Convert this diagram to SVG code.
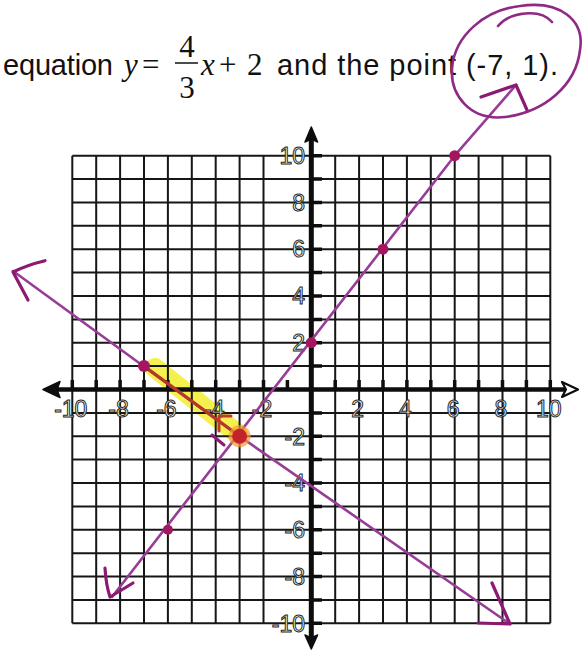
<svg xmlns="http://www.w3.org/2000/svg" width="583" height="651" viewBox="0 0 583 651">
<style>
.grid{stroke:#161616;stroke-width:2;fill:none}
.tick{stroke:#0d0d0d;stroke-width:3.5;fill:none}
.lbl{font-family:"Liberation Sans",Arial,sans-serif;font-size:23px;fill:#fff;stroke:#262626;stroke-width:1}
.txt{font-family:"Liberation Sans",Arial,sans-serif;font-size:29px;fill:#111}
.math{font-family:"Liberation Serif","Times New Roman",serif;font-size:31px;fill:#111}
.pl{stroke:#973c97;stroke-width:2.6;fill:none;stroke-linecap:round;stroke-linejoin:round}
.ah{stroke:#8c1a72;stroke-width:3.2;fill:none;stroke-linecap:round;stroke-linejoin:round}
.dot{fill:#a3175e}
</style>
<rect width="583" height="651" fill="#fff"/>

<g id="title">
<text class="txt" x="3" y="75" textLength="110" lengthAdjust="spacing">equation</text>
<text class="math" x="124" y="75" font-style="italic">y</text>
<text class="math" x="142" y="75">=</text>
<text class="math" x="187" y="57" text-anchor="middle">4</text>
<line x1="175" y1="63" x2="198" y2="63" stroke="#111" stroke-width="1.5"/>
<text class="math" x="187" y="98" text-anchor="middle">3</text>
<text class="math" x="201" y="75" font-style="italic">x</text>
<text class="math" x="219" y="75">+</text>
<text class="math" x="247" y="75">2</text>
<text class="txt" x="277" y="75" textLength="281" lengthAdjust="spacing">and the point (-7, 1).</text>
</g>

<g id="highlight">
<line x1="155" y1="368" x2="238" y2="434" stroke="#f4ee30" stroke-width="20" stroke-linecap="round" opacity="0.85"/>
</g>

<g id="grid">
<path class="grid" d="M72.3 155.7V623.3M96.2 155.7V623.3M120.1 155.7V623.3M144 155.7V623.3M167.9 155.7V623.3M191.8 155.7V623.3M215.7 155.7V623.3M239.6 155.7V623.3M263.5 155.7V623.3M335.2 155.7V623.3M359.1 155.7V623.3M383 155.7V623.3M406.9 155.7V623.3M430.8 155.7V623.3M454.7 155.7V623.3M478.6 155.7V623.3M502.5 155.7V623.3M526.4 155.7V623.3M550.3 155.7V623.3
M72.3 155.7H550.3M72.3 179.1H550.3M72.3 202.5H550.3M72.3 225.8H550.3M72.3 249.2H550.3M72.3 272.6H550.3M72.3 296H550.3M72.3 319.4H550.3M72.3 342.7H550.3M72.3 366.1H550.3M72.3 412.9H550.3M72.3 436.3H550.3M72.3 459.6H550.3M72.3 483H550.3M72.3 506.4H550.3M72.3 529.8H550.3M72.3 553.2H550.3M72.3 576.5H550.3M72.3 599.9H550.3M72.3 623.3H550.3"/>
</g>

<g id="axes">
<line x1="55" y1="389.5" x2="566" y2="389.5" stroke="#0d0d0d" stroke-width="4.5"/>
<line x1="311.3" y1="138" x2="311.3" y2="640" stroke="#0d0d0d" stroke-width="5"/>
<polygon points="43,389.5 60,381.5 57,389.5 60,397.5" fill="#0d0d0d" stroke="#0d0d0d" stroke-width="1.5" stroke-linejoin="round"/>
<polygon points="578,389.5 562,382 566,389.5 562,397" fill="#fff" stroke="#0d0d0d" stroke-width="2.2" stroke-linejoin="round"/>
<polygon points="311.3,127 305,142 311.3,139 317.6,142" fill="#0d0d0d" stroke="#0d0d0d" stroke-width="1.5" stroke-linejoin="round"/>
<polygon points="311.3,649 305,635 311.3,638 317.6,635" fill="#0d0d0d" stroke="#0d0d0d" stroke-width="1.5" stroke-linejoin="round"/>
<path class="tick" d="M72.3 380V389M96.2 380V389M120.1 380V389M144 380V389M167.9 380V389M191.8 380V389M215.7 380V389M239.6 380V389M263.5 380V389M287.4 380V389M335.2 380V389M359.1 380V389M383 380V389M406.9 380V389M430.8 380V389M454.7 380V389M478.6 380V389M502.5 380V389M526.4 380V389M550.3 380V389"/>
<path class="tick" d="M312 155.7H322M312 179.1H322M312 202.5H322M312 225.8H322M312 249.2H322M312 272.6H322M312 296H322M312 319.4H322M312 342.7H322M312 366.1H322M312 412.9H322M312 436.3H322M312 459.6H322M312 483H322M312 506.4H322M312 529.8H322M312 553.2H322M312 576.5H322M312 599.9H322M312 623.3H322"/>
</g>

<g id="labels">
<text class="lbl" x="70.8" y="416.5" text-anchor="middle">-10</text>
<text class="lbl" x="118.6" y="416.5" text-anchor="middle">-8</text>
<text class="lbl" x="166.4" y="416.5" text-anchor="middle">-6</text>
<text class="lbl" x="214.2" y="416.5" text-anchor="middle">-4</text>
<text class="lbl" x="262" y="416.5" text-anchor="middle">-2</text>
<text class="lbl" x="357.6" y="416.5" text-anchor="middle">2</text>
<text class="lbl" x="405.4" y="416.5" text-anchor="middle">4</text>
<text class="lbl" x="453.2" y="416.5" text-anchor="middle">6</text>
<text class="lbl" x="501" y="416.5" text-anchor="middle">8</text>
<text class="lbl" x="548.8" y="416.5" text-anchor="middle">10</text>
<text class="lbl" x="305" y="163.9" text-anchor="end">10</text>
<text class="lbl" x="305" y="210.7" text-anchor="end">8</text>
<text class="lbl" x="305" y="257.4" text-anchor="end">6</text>
<text class="lbl" x="305" y="304.2" text-anchor="end">4</text>
<text class="lbl" x="305" y="350.9" text-anchor="end">2</text>
<text class="lbl" x="305" y="444.5" text-anchor="end">-2</text>
<text class="lbl" x="305" y="491.2" text-anchor="end">-4</text>
<text class="lbl" x="305" y="538" text-anchor="end">-6</text>
<text class="lbl" x="305" y="584.7" text-anchor="end">-8</text>
<text class="lbl" x="305" y="631.5" text-anchor="end">-10</text>
</g>

<g id="connectors">
<g id="line-given">
<polyline class="pl" points="112,597 454.7,155.7 516,85"/>
<path class="ah" d="M481 97L516 85L527 110"/>
<path class="ah" d="M105 568Q106 585 110 597L133 583"/>
</g>
<g id="line-perpendicular">
<polyline class="pl" points="13,271 239.6,436.3 510,624"/>
<path class="ah" d="M45 260.7Q27 265 13 272L28 300"/>
<path class="ah" d="M492 583L510 624L478 623"/>
<line x1="144" y1="366.1" x2="239.6" y2="436.3" stroke="#b5362c" stroke-width="3.2" stroke-linecap="round"/>
</g>
<g id="right-angle">
<path d="M231 416L219 416L219 431" stroke="#c0392b" stroke-width="3" fill="none" stroke-linecap="round" stroke-linejoin="round"/>
<path d="M212 435L224 445" stroke="#8c1a72" stroke-width="3" fill="none" stroke-linecap="round"/>
</g>
</g>

<g id="points">
<circle class="dot" cx="167.9" cy="529.8" r="5"/>
<circle class="dot" cx="311.3" cy="342.7" r="5.5"/>
<circle class="dot" cx="383" cy="249.2" r="5.5"/>
<circle class="dot" cx="454.7" cy="155.7" r="5.5"/>
<circle class="dot" cx="144" cy="366.1" r="6"/>
<circle cx="239.6" cy="436.3" r="11" fill="#f39a3a" opacity="0.7"/>
<circle cx="239.6" cy="436.3" r="7.5" fill="#c4232e"/>
</g>

<g id="circle-mark">
<path d="M520 6C560 0 585 20 580 50C576 85 545 112 505 117C470 121 450 95 452 68C455 35 485 10 520 6" stroke="#8e2a86" stroke-width="2.6" fill="none" stroke-linecap="round"/>
<path d="M498 26C510 12 540 8 552 22" stroke="#8e2a86" stroke-width="2.6" fill="none" stroke-linecap="round"/>
</g>
</svg>
